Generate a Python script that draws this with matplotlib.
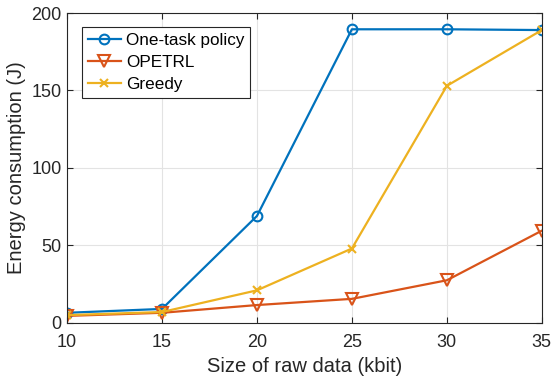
import matplotlib
matplotlib.use("Agg")
import matplotlib.pyplot as plt

# data
sizes = [10, 15, 20, 25, 30, 35]
one_task = [6.5, 9, 69, 189.5, 189.5, 189]
opetrl = [4.5, 6.5, 11.5, 15.5, 27.5, 59.5]
greedy = [5, 7, 21, 48, 153, 189]

plt.rcParams['font.family'] = ['Liberation Sans', 'DejaVu Sans']

fig = plt.figure(figsize=(5.54, 3.83), dpi=100)
ax = fig.add_axes([0.121, 0.157, 0.857, 0.809])

ax.plot(sizes, one_task, color='#0072BD', marker='o', markersize=7,
        markerfacecolor='none', markeredgewidth=1.5, linewidth=1.6,
        label='One-task policy')
ax.plot(sizes, opetrl, color='#D95319', marker='v', markersize=8,
        markerfacecolor='none', markeredgewidth=1.5, linewidth=1.6,
        label='OPETRL')
ax.plot(sizes, greedy, color='#EDB120', marker='x', markersize=6,
        markeredgewidth=1.5, linewidth=1.6, label='Greedy')

ax.set_xlim(10, 35)
ax.set_ylim(0, 200)
ax.set_xticks(sizes)
ax.set_yticks([0, 50, 100, 150, 200])
ax.grid(True, color='#e3e3e3', linewidth=0.8)
ax.set_axisbelow(True)
ax.tick_params(direction='in', labelsize=13, colors='#262626',
               top=True, right=True, length=4)
ax.tick_params(axis='x', pad=8)
ax.tick_params(axis='y', pad=4)
for s in ax.spines.values():
    s.set_color('#262626')
    s.set_linewidth(0.8)

ax.set_xlabel('Size of raw data (kbit)', fontsize=14.5, color='#262626',
              labelpad=4)
ax.set_ylabel('Energy consumption (J)', fontsize=14.5, color='#262626',
              labelpad=4)

leg = ax.legend(loc='upper left', fontsize=12.3, fancybox=False,
                framealpha=1, edgecolor='#262626', handlelength=1.9,
                borderpad=0.35, labelspacing=0.4, handletextpad=0.3,
                borderaxespad=0, bbox_to_anchor=(0.032, 0.955))
leg.get_frame().set_linewidth(0.8)

fig.savefig('out.png', dpi=100)
